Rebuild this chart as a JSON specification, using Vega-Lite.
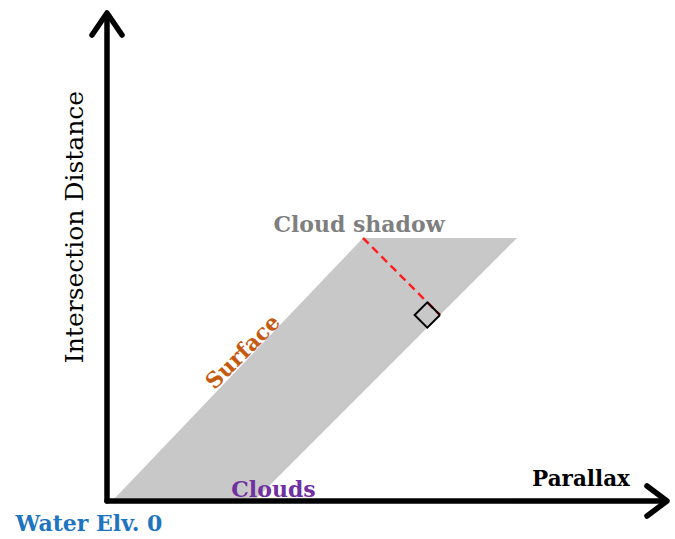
{
  "$schema": "https://vega.github.io/schema/vega-lite/v6.json",
  "width": 675,
  "height": 539,
  "autosize": {"type": "fit", "contains": "padding"},
  "padding": 0,
  "background": "white",
  "config": {"view": {"stroke": null}},
  "datasets": {
    "band": [
      {"y": 263, "xl": 256, "xr": 410},
      {"y": 3, "xl": 8, "xr": 150}
    ],
    "perp": [{"x": 256, "y": 263, "x2": 333, "y2": 186}],
    "square": [
      {"o": 0, "x": 333, "y": 186},
      {"o": 1, "x": 320.3, "y": 198.7},
      {"o": 2, "x": 307.6, "y": 186},
      {"o": 3, "x": 320.3, "y": 173.3},
      {"o": 4, "x": 333, "y": 186}
    ],
    "arrows": [
      {"seg": "yshaft", "o": 0, "x": 0, "y": 0},
      {"seg": "yshaft", "o": 1, "x": 0, "y": 486},
      {"seg": "yhead", "o": 0, "x": -15, "y": 466},
      {"seg": "yhead", "o": 1, "x": 0, "y": 488},
      {"seg": "yhead", "o": 2, "x": 15, "y": 466},
      {"seg": "xshaft", "o": 0, "x": 0, "y": 0},
      {"seg": "xshaft", "o": 1, "x": 558, "y": 0},
      {"seg": "xhead", "o": 0, "x": 540, "y": 15},
      {"seg": "xhead", "o": 1, "x": 560, "y": 0},
      {"seg": "xhead", "o": 2, "x": 540, "y": -15}
    ]
  },
  "layer": [
    {
      "data": {"name": "band"},
      "mark": {"type": "area", "orient": "horizontal", "color": "#c8c8c8", "opacity": 1},
      "encoding": {
        "y": {"field": "y", "type": "quantitative", "scale": {"domain": [-38, 501], "nice": false, "zero": false}, "axis": null},
        "x": {"field": "xl", "type": "quantitative", "scale": {"domain": [-107, 568], "nice": false, "zero": false}, "axis": null},
        "x2": {"field": "xr"}
      }
    },
    {
      "data": {"name": "perp"},
      "mark": {"type": "rule", "color": "#ff1f1f", "strokeWidth": 2.5, "strokeDash": [8, 5]},
      "encoding": {
        "x": {"field": "x", "type": "quantitative"},
        "y": {"field": "y", "type": "quantitative"},
        "x2": {"field": "x2"},
        "y2": {"field": "y2"}
      }
    },
    {
      "data": {"name": "square"},
      "mark": {"type": "line", "color": "black", "strokeWidth": 2, "strokeJoin": "miter"},
      "encoding": {
        "x": {"field": "x", "type": "quantitative"},
        "y": {"field": "y", "type": "quantitative"},
        "order": {"field": "o", "type": "quantitative"}
      }
    },
    {
      "data": {"name": "arrows"},
      "mark": {"type": "line", "color": "black", "strokeWidth": 5.5, "strokeCap": "round", "strokeJoin": "round"},
      "encoding": {
        "x": {"field": "x", "type": "quantitative"},
        "y": {"field": "y", "type": "quantitative"},
        "detail": {"field": "seg"},
        "order": {"field": "o", "type": "quantitative"}
      }
    },
    {
      "data": {"values": [{"label": "Cloud shadow", "x": 252, "y": 276}]},
      "mark": {"type": "text", "font": "DejaVu Serif", "fontSize": 22, "fontWeight": "bold", "color": "#7f7f7f", "baseline": "middle", "align": "center"},
      "encoding": {"x": {"field": "x", "type": "quantitative"}, "y": {"field": "y", "type": "quantitative"}, "text": {"field": "label"}}
    },
    {
      "data": {"values": [{"label": "Surface", "x": 136, "y": 149}]},
      "mark": {"type": "text", "font": "DejaVu Serif", "fontSize": 22, "fontWeight": "bold", "color": "#c55a11", "baseline": "middle", "align": "center", "angle": 315},
      "encoding": {"x": {"field": "x", "type": "quantitative"}, "y": {"field": "y", "type": "quantitative"}, "text": {"field": "label"}}
    },
    {
      "data": {"values": [{"label": "Clouds", "x": 166.5, "y": 11}]},
      "mark": {"type": "text", "font": "DejaVu Serif", "fontSize": 22, "fontWeight": "bold", "color": "#7030a0", "baseline": "middle", "align": "center"},
      "encoding": {"x": {"field": "x", "type": "quantitative"}, "y": {"field": "y", "type": "quantitative"}, "text": {"field": "label"}}
    },
    {
      "data": {"values": [{"label": "Parallax", "x": 474, "y": 21}]},
      "mark": {"type": "text", "font": "DejaVu Serif", "fontSize": 21.5, "fontWeight": "bold", "color": "black", "baseline": "middle", "align": "center"},
      "encoding": {"x": {"field": "x", "type": "quantitative"}, "y": {"field": "y", "type": "quantitative"}, "text": {"field": "label"}}
    },
    {
      "data": {"values": [{"label": "Water Elv. 0", "x": -18, "y": -23}]},
      "mark": {"type": "text", "font": "DejaVu Serif", "fontSize": 22, "fontWeight": "bold", "color": "#1f74c0", "baseline": "middle", "align": "center"},
      "encoding": {"x": {"field": "x", "type": "quantitative"}, "y": {"field": "y", "type": "quantitative"}, "text": {"field": "label"}}
    },
    {
      "data": {"values": [{"label": "Intersection Distance", "x": -32, "y": 274}]},
      "mark": {"type": "text", "font": "DejaVu Serif", "fontSize": 25, "color": "black", "baseline": "middle", "align": "center", "angle": 270},
      "encoding": {"x": {"field": "x", "type": "quantitative"}, "y": {"field": "y", "type": "quantitative"}, "text": {"field": "label"}}
    }
  ]
}
